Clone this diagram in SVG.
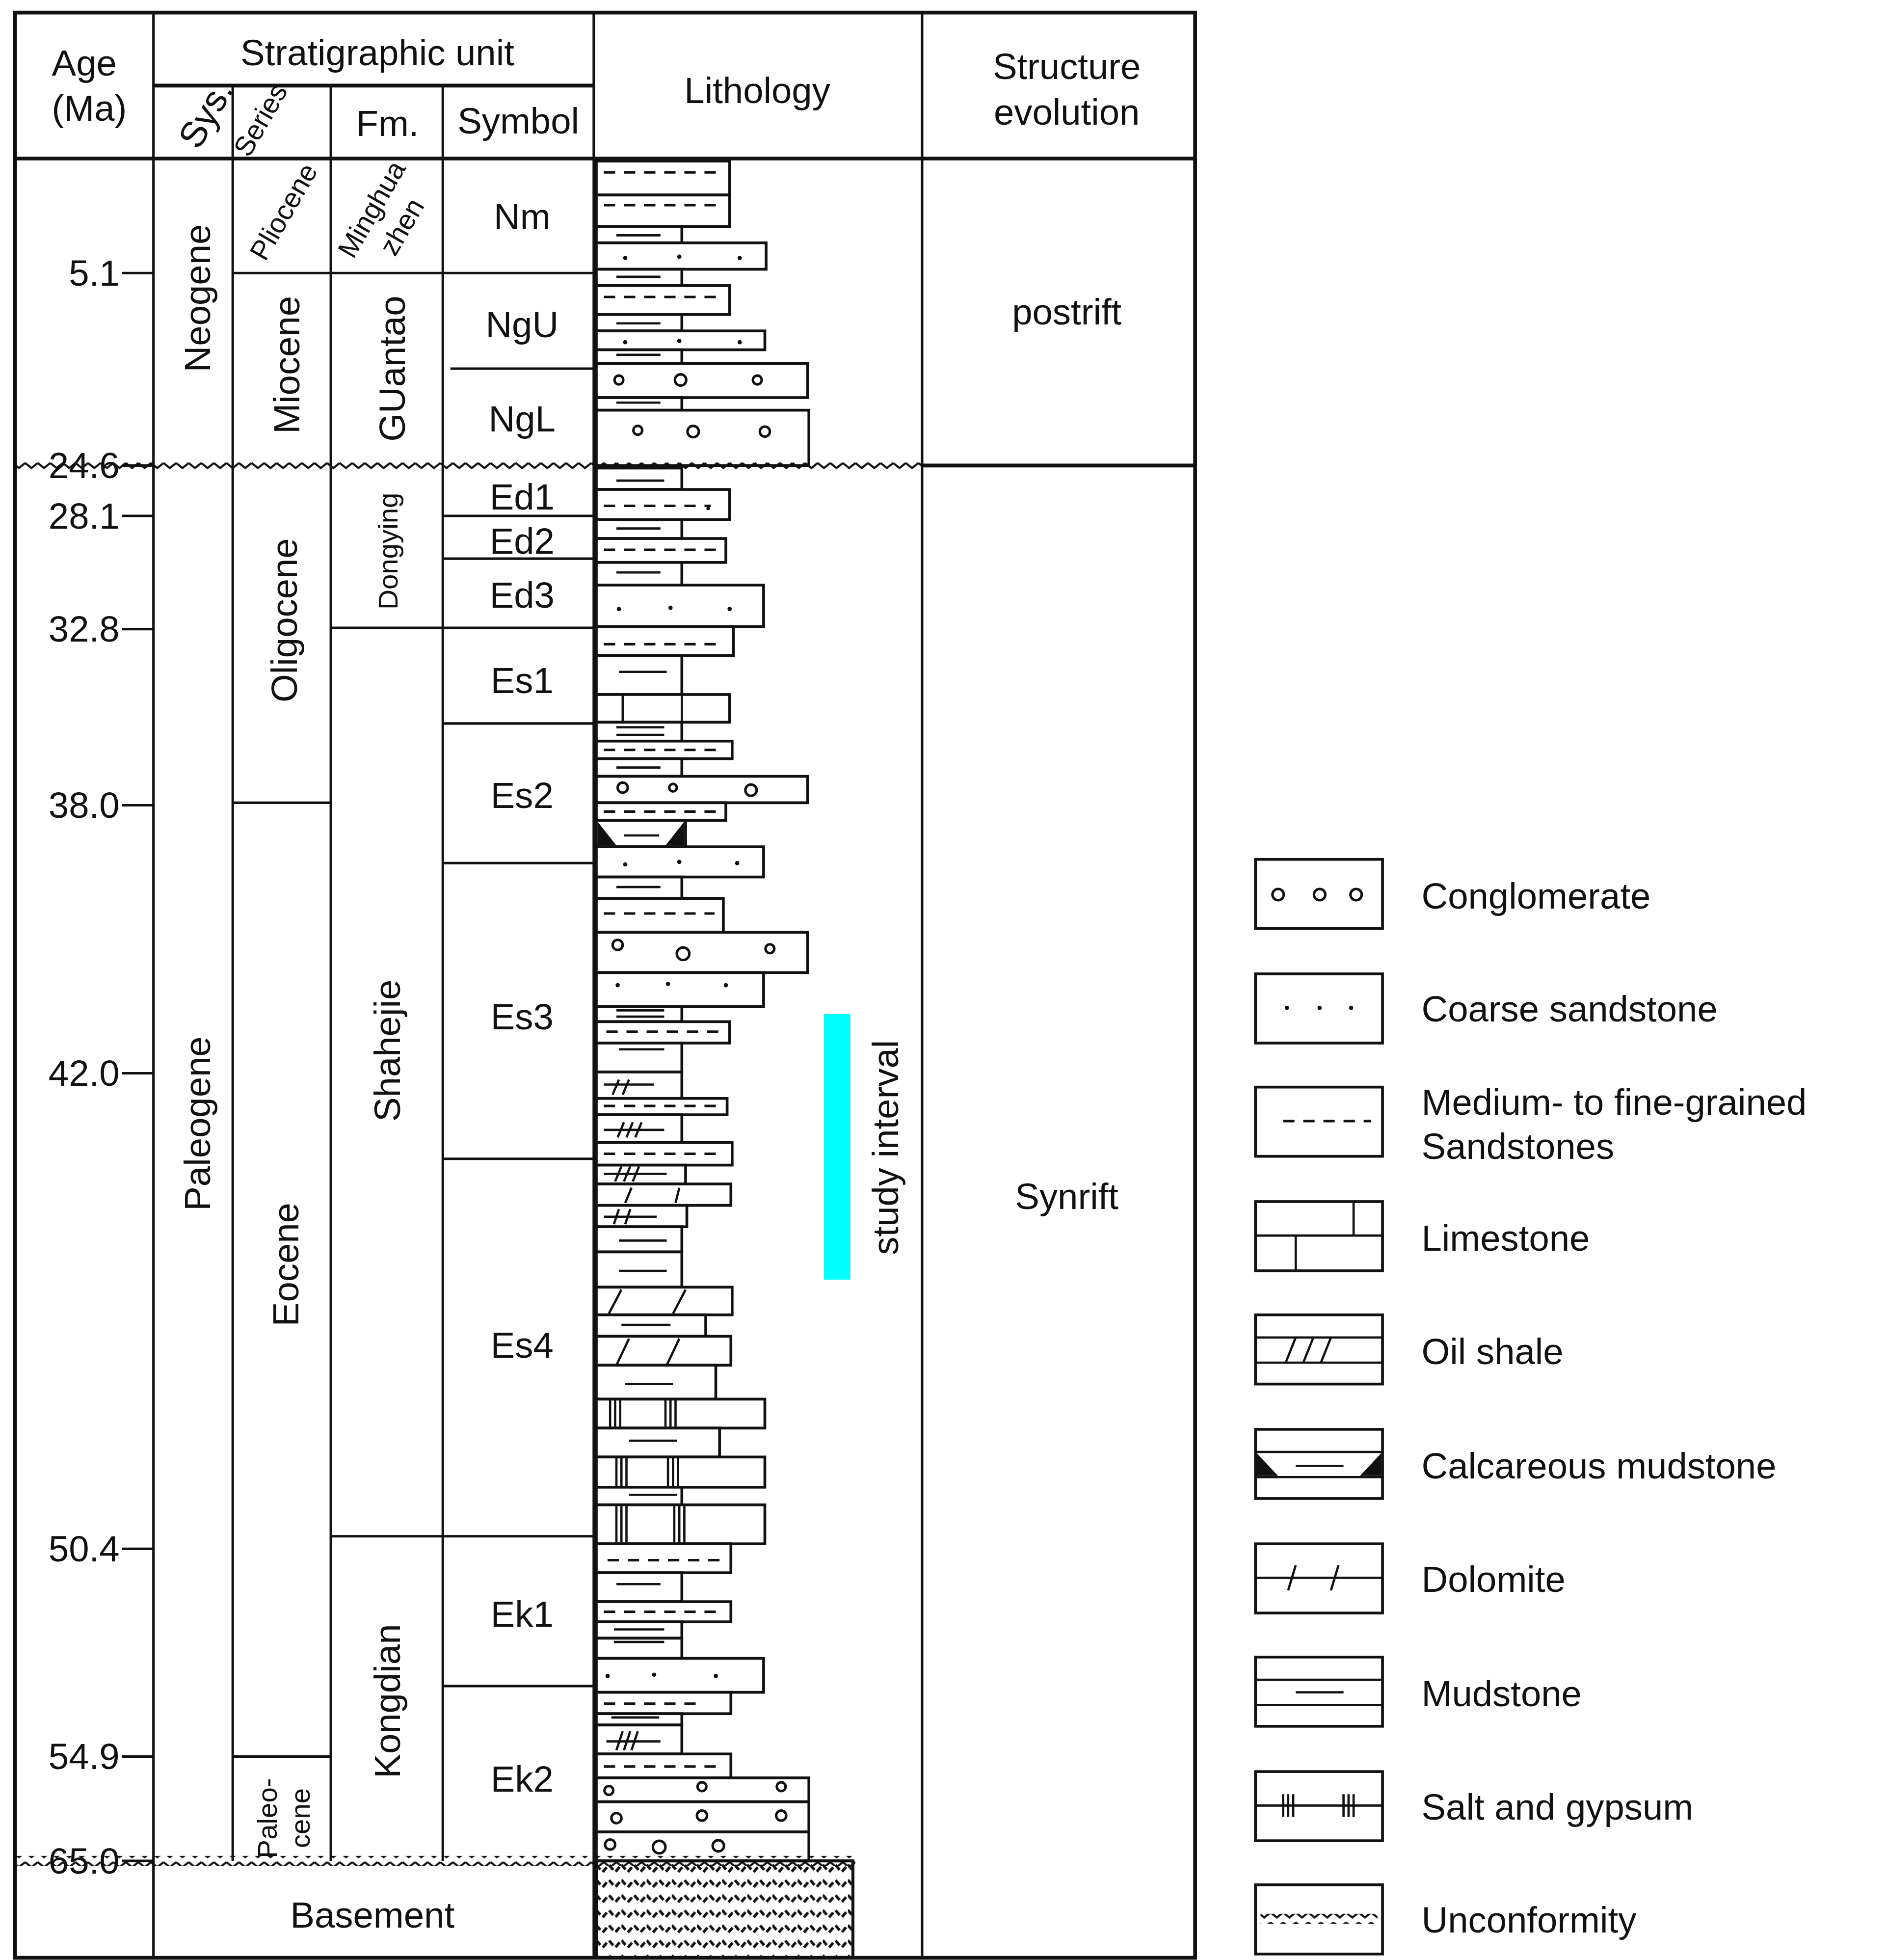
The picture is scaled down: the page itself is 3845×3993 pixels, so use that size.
<svg xmlns="http://www.w3.org/2000/svg" width="3845" height="3993" viewBox="0 0 3845 3993">
<defs>
<style>
text{font-family:"Liberation Sans",Arial,sans-serif;fill:#111}
.h{font-size:29px}
.s{font-size:22px}
.f{fill:none;stroke:#111;stroke-width:2}
.b{fill:#fff;stroke:#111;stroke-width:2.2}
.m{stroke:#111;stroke-width:1.8}
.d{stroke:#111;stroke-width:2;stroke-dasharray:9 7}
.c{fill:none;stroke:#111;stroke-width:2}
.k{fill:#111}
</style>
<pattern id="zig" patternUnits="userSpaceOnUse" width="10" height="8" x="0" y="366">
<polyline points="0,2 5,6 10,2" fill="none" stroke="#111" stroke-width="1.6"/>
</pattern>
<pattern id="bas" patternUnits="userSpaceOnUse" width="20" height="12" x="474" y="1479">
<polyline points="0,3 5,9 10,3 15,9 20,3" fill="none" stroke="#111" stroke-width="2.2" stroke-dasharray="5 3"/>
</pattern>
</defs>
<rect width="3845" height="3993" fill="#fff"/>
<g transform="scale(2.5633)">
<g id="frame" class="f">
<rect x="12" y="10" width="938" height="1546" stroke-width="3"/>
<line x1="12" y1="126" x2="950" y2="126" stroke-width="3"/>
<line x1="122" y1="10" x2="122" y2="1556"/>
<line x1="472" y1="10" x2="472" y2="1556"/>
<line x1="733" y1="10" x2="733" y2="1556"/>
<line x1="122" y1="68" x2="472" y2="68" stroke-width="3"/>
<line x1="185" y1="68" x2="185" y2="1479"/>
<line x1="263" y1="68" x2="263" y2="1479"/>
<line x1="352" y1="68" x2="352" y2="1479"/>
<line x1="733" y1="370" x2="950" y2="370" stroke-width="3"/>
<line x1="12" y1="1479" x2="472" y2="1479" stroke="none"/>
<line x1="185" y1="217" x2="472" y2="217"/>
<line x1="358" y1="293" x2="472" y2="293"/>
<line x1="352" y1="410" x2="472" y2="410"/>
<line x1="352" y1="444" x2="472" y2="444"/>
<line x1="263" y1="499" x2="472" y2="499"/>
<line x1="352" y1="575" x2="472" y2="575"/>
<line x1="185" y1="638" x2="263" y2="638"/>
<line x1="352" y1="686" x2="472" y2="686"/>
<line x1="352" y1="921" x2="472" y2="921"/>
<line x1="263" y1="1221" x2="472" y2="1221"/>
<line x1="352" y1="1340" x2="472" y2="1340"/>
<line x1="185" y1="1396" x2="263" y2="1396"/>
</g>
<g id="ages">
<g class="f"><line x1="97" y1="217" x2="122" y2="217"/><line x1="97" y1="370" x2="122" y2="370"/><line x1="97" y1="410" x2="122" y2="410"/><line x1="97" y1="500" x2="122" y2="500"/><line x1="97" y1="640" x2="122" y2="640"/><line x1="97" y1="853" x2="122" y2="853"/><line x1="97" y1="1231" x2="122" y2="1231"/><line x1="97" y1="1396" x2="122" y2="1396"/><line x1="97" y1="1479" x2="122" y2="1479"/></g>
<g class="h" text-anchor="end">
<text x="95" y="227">5.1</text><text x="95" y="380">24.6</text><text x="95" y="420">28.1</text><text x="95" y="510">32.8</text><text x="95" y="650">38.0</text><text x="95" y="863">42.0</text><text x="95" y="1241">50.4</text><text x="95" y="1406">54.9</text><text x="95" y="1489">65.0</text>
</g>
</g>
<g id="header" class="h" text-anchor="middle">
<text x="67" y="60">Age</text><text x="71" y="96">(Ma)</text>
<text x="300" y="52">Stratigraphic unit</text>
<text x="602" y="82">Lithology</text>
<text x="848" y="63">Structure</text><text x="848" y="99">evolution</text>
<text x="308" y="108">Fm.</text>
<text x="412" y="106">Symbol</text>
<text transform="translate(158,120) rotate(-60)" x="0" y="0" text-anchor="start">Sys.</text>
<text transform="translate(198,126) rotate(-60)" class="s" text-anchor="start">Series</text>
</g>
<g id="units" class="h" text-anchor="middle">
<text transform="translate(167,237) rotate(-90)">Neogene</text>
<text transform="translate(167,893) rotate(-90)">Paleogene</text>
<text transform="translate(238,290) rotate(-90)">Miocene</text>
<text transform="translate(236,493) rotate(-90)">Oligocene</text>
<text transform="translate(237,1005) rotate(-90)">Eocene</text>
<text transform="translate(322,293) rotate(-90)">GUantao</text>
<text transform="translate(316,438) rotate(-90)" class="s">Dongying</text>
<text transform="translate(318,835) rotate(-90)">Shahejie</text>
<text transform="translate(318,1352) rotate(-90)">Kongdian</text>
<text transform="translate(232,172) rotate(-60)" class="s">Pliocene</text>
<text transform="translate(302,170) rotate(-60)" class="s">Minghua</text>
<text transform="translate(326,184) rotate(-60)" class="s">zhen</text>
<text transform="translate(220,1445) rotate(-90)" class="s">Paleo-</text>
<text transform="translate(246,1445) rotate(-90)" class="s">cene</text>
<text x="415" y="182">Nm</text><text x="415" y="268">NgU</text><text x="415" y="343">NgL</text>
<text x="415" y="405">Ed1</text><text x="415" y="440">Ed2</text><text x="415" y="483">Ed3</text>
<text x="415" y="551">Es1</text><text x="415" y="642">Es2</text><text x="415" y="818">Es3</text>
<text x="415" y="1079">Es4</text><text x="415" y="1293">Ek1</text><text x="415" y="1424">Ek2</text>
<text x="296" y="1532">Basement</text>
<text x="848" y="258">postrift</text>
<text x="848" y="961">Synrift</text>
</g>
<g id="lithology">
<rect class="b" x="474" y="128" width="106" height="27"/><line class="d" x1="480" y1="137" x2="572" y2="137"/>
<rect class="b" x="474" y="155" width="106" height="25"/><line class="d" x1="480" y1="163" x2="572" y2="163"/>
<rect class="b" x="474" y="180" width="68" height="13"/><line class="m" x1="490" y1="187" x2="525" y2="187"/>
<rect class="b" x="474" y="193" width="135" height="21"/><circle class="k" cx="497" cy="205" r="1.7"/><circle class="k" cx="540" cy="204" r="1.7"/><circle class="k" cx="588" cy="205" r="1.7"/>
<rect class="b" x="474" y="214" width="68" height="13"/><line class="m" x1="490" y1="220" x2="525" y2="220"/>
<rect class="b" x="474" y="227" width="106" height="23"/><line class="d" x1="480" y1="236" x2="572" y2="236"/>
<rect class="b" x="474" y="250" width="68" height="13"/><line class="m" x1="490" y1="257" x2="525" y2="257"/>
<rect class="b" x="474" y="263" width="134" height="15"/><circle class="k" cx="497" cy="272" r="1.7"/><circle class="k" cx="540" cy="271" r="1.7"/><circle class="k" cx="588" cy="272" r="1.7"/>
<rect class="b" x="474" y="278" width="68" height="11"/><line class="m" x1="490" y1="282" x2="525" y2="282"/>
<rect class="b" x="474" y="289" width="168" height="27"/><circle class="c" cx="492" cy="302" r="3.5"/><circle class="c" cx="541" cy="302" r="4.5"/><circle class="c" cx="602" cy="302" r="3.5"/>
<rect class="b" x="474" y="316" width="68" height="10"/><line class="m" x1="490" y1="320" x2="525" y2="320"/>
<rect class="b" x="474" y="326" width="169" height="44"/><circle class="c" cx="507" cy="342" r="3.5"/><circle class="c" cx="551" cy="343" r="4.5"/><circle class="c" cx="608" cy="343" r="4"/>
<rect class="b" x="474" y="372" width="68" height="17"/><line class="m" x1="490" y1="382" x2="528" y2="382"/>
<rect class="b" x="474" y="389" width="106" height="24"/><line class="d" x1="480" y1="402" x2="565" y2="402"/><circle class="k" cx="563" cy="404" r="1.5"/>
<rect class="b" x="474" y="413" width="68" height="15"/><line class="m" x1="490" y1="420" x2="525" y2="420"/>
<rect class="b" x="474" y="428" width="103" height="19"/><line class="d" x1="480" y1="437" x2="570" y2="437"/>
<rect class="b" x="474" y="447" width="68" height="18"/><line class="m" x1="490" y1="455" x2="525" y2="455"/>
<rect class="b" x="474" y="465" width="133" height="33"/><circle class="k" cx="492" cy="484" r="1.7"/><circle class="k" cx="533" cy="483" r="1.7"/><circle class="k" cx="580" cy="484" r="1.7"/>
<rect class="b" x="474" y="498" width="109" height="23"/><line class="d" x1="480" y1="512" x2="576" y2="512"/>
<rect class="b" x="474" y="521" width="68" height="31"/><line class="m" x1="492" y1="534" x2="530" y2="534"/>
<rect class="b" x="474" y="552" width="106" height="22"/><line class="m" x1="495" y1="552" x2="495" y2="574"/><line class="m" x1="542" y1="552" x2="542" y2="574"/>
<rect class="b" x="474" y="574" width="68" height="15"/><line class="m" x1="490" y1="578" x2="528" y2="578"/><line class="m" x1="490" y1="584" x2="528" y2="584"/>
<rect class="b" x="474" y="589" width="108" height="14"/><line class="d" x1="480" y1="596" x2="576" y2="596"/>
<rect class="b" x="474" y="603" width="68" height="14"/><line class="m" x1="490" y1="610" x2="525" y2="610"/>
<rect class="b" x="474" y="617" width="168" height="21"/><circle class="c" cx="495" cy="626" r="4"/><circle class="c" cx="535" cy="626" r="3"/><circle class="c" cx="597" cy="628" r="4.5"/>
<rect class="b" x="474" y="638" width="103" height="14"/><line class="d" x1="480" y1="645" x2="570" y2="645"/>
<rect class="b" x="474" y="652" width="71" height="21"/><polygon class="k" points="475,653 475,672 490,672"/><polygon class="k" points="544,653 544,672 529,672"/><line class="m" x1="496" y1="664" x2="524" y2="664"/>
<rect class="b" x="474" y="673" width="133" height="24"/><circle class="k" cx="497" cy="687" r="1.7"/><circle class="k" cx="540" cy="685" r="1.7"/><circle class="k" cx="586" cy="686" r="1.7"/>
<rect class="b" x="474" y="697" width="68" height="17"/><line class="m" x1="490" y1="705" x2="525" y2="705"/>
<rect class="b" x="474" y="714" width="101" height="27"/><line class="d" x1="480" y1="726" x2="568" y2="726"/>
<rect class="b" x="474" y="741" width="168" height="32"/><circle class="c" cx="491" cy="751" r="4"/><circle class="c" cx="543" cy="758" r="5"/><circle class="c" cx="612" cy="754" r="3.5"/>
<rect class="b" x="474" y="773" width="133" height="27"/><circle class="k" cx="491" cy="783" r="1.7"/><circle class="k" cx="531" cy="782" r="1.7"/><circle class="k" cx="577" cy="783" r="1.7"/>
<rect class="b" x="474" y="800" width="68" height="12"/><line class="m" x1="490" y1="803" x2="528" y2="803"/><line class="m" x1="490" y1="808" x2="528" y2="808"/>
<rect class="b" x="474" y="812" width="106" height="17"/><line class="d" x1="482" y1="820" x2="574" y2="820"/>
<rect class="b" x="474" y="829" width="68" height="23"/><line class="m" x1="492" y1="834" x2="528" y2="834"/>
<rect class="b" x="474" y="852" width="68" height="21"/><line class="m" x1="480" y1="862" x2="520" y2="862"/><path class="m" d="M487,870 L492,858 M495,870 L500,858"/>
<rect class="b" x="474" y="873" width="104" height="13"/><line class="d" x1="480" y1="879" x2="572" y2="879"/>
<rect class="b" x="474" y="886" width="68" height="22"/><line class="m" x1="480" y1="898" x2="528" y2="898"/><path class="m" d="M491,904 L496,892 M498,904 L503,892 M505,904 L510,892"/>
<rect class="b" x="474" y="908" width="108" height="18"/><line class="d" x1="480" y1="917" x2="575" y2="917"/>
<rect class="b" x="474" y="926" width="71" height="15"/><line class="m" x1="480" y1="933" x2="530" y2="933"/><path class="m" d="M489,939 L494,927 M496,939 L501,927 M503,939 L508,927"/>
<rect class="b" x="474" y="941" width="107" height="17"/><path class="m" d="M497,956 L502,944 M537,956 L540,944"/>
<rect class="b" x="474" y="958" width="72" height="17"/><line class="m" x1="480" y1="967" x2="522" y2="967"/><path class="m" d="M488,973 L492,961 M497,973 L501,961"/>
<rect class="b" x="474" y="975" width="68" height="20"/><line class="m" x1="492" y1="986" x2="530" y2="986"/>
<rect class="b" x="474" y="995" width="68" height="28"/><line class="m" x1="492" y1="1010" x2="530" y2="1010"/>
<rect class="b" x="474" y="1023" width="108" height="22"/><path class="m" d="M484,1044 L494,1025 M535,1044 L545,1025"/>
<rect class="b" x="474" y="1045" width="87" height="17"/><line class="m" x1="494" y1="1053" x2="533" y2="1053"/>
<rect class="b" x="474" y="1062" width="107" height="23"/><path class="m" d="M490,1085 L500,1064 M530,1085 L540,1064"/>
<rect class="b" x="474" y="1085" width="95" height="27"/><line class="m" x1="497" y1="1100" x2="535" y2="1100"/>
<rect class="b" x="474" y="1112" width="134" height="23"/><path class="m" d="M485,1113 V1134 M489,1113 V1134 M493,1113 V1134 M529,1113 V1134 M533,1113 V1134 M537,1113 V1134"/>
<rect class="b" x="474" y="1135" width="98" height="23"/><line class="m" x1="500" y1="1145" x2="538" y2="1145"/>
<rect class="b" x="474" y="1158" width="134" height="24"/><path class="m" d="M490,1159 V1181 M494,1159 V1181 M498,1159 V1181 M531,1159 V1181 M535,1159 V1181 M539,1159 V1181"/>
<rect class="b" x="474" y="1182" width="68" height="14"/><line class="m" x1="500" y1="1188" x2="538" y2="1188"/>
<rect class="b" x="474" y="1196" width="134" height="31"/><path class="m" d="M490,1197 V1226 M494,1197 V1226 M498,1197 V1226 M536,1197 V1226 M540,1197 V1226 M544,1197 V1226"/>
<rect class="b" x="474" y="1227" width="107" height="23"/><line class="d" x1="483" y1="1240" x2="575" y2="1240"/>
<rect class="b" x="474" y="1250" width="68" height="23"/><line class="m" x1="490" y1="1259" x2="525" y2="1259"/>
<rect class="b" x="474" y="1273" width="107" height="16"/><line class="d" x1="480" y1="1281" x2="575" y2="1281"/>
<rect class="b" x="474" y="1289" width="68" height="13"/><line class="m" x1="488" y1="1295" x2="528" y2="1295"/>
<rect class="b" x="474" y="1302" width="68" height="16"/><line class="m" x1="488" y1="1305" x2="528" y2="1305"/>
<rect class="b" x="474" y="1318" width="133" height="27"/><circle class="k" cx="483" cy="1332" r="1.7"/><circle class="k" cx="520" cy="1331" r="1.7"/><circle class="k" cx="569" cy="1332" r="1.7"/>
<rect class="b" x="474" y="1345" width="107" height="17"/><line class="d" x1="480" y1="1354" x2="560" y2="1354"/>
<rect class="b" x="474" y="1362" width="68" height="9"/><line class="m" x1="486" y1="1365" x2="524" y2="1365"/>
<rect class="b" x="474" y="1371" width="68" height="23"/><line class="m" x1="482" y1="1384" x2="525" y2="1384"/><path class="m" d="M490,1391 L495,1376 M496,1391 L501,1376 M502,1391 L507,1376"/>
<rect class="b" x="474" y="1394" width="107" height="19"/><line class="d" x1="480" y1="1404" x2="575" y2="1404"/>
<rect class="b" x="474" y="1413" width="169" height="19"/><circle class="c" cx="484" cy="1423" r="3.5"/><circle class="c" cx="558" cy="1420" r="3.5"/><circle class="c" cx="621" cy="1420" r="3.5"/>
<rect class="b" x="474" y="1432" width="169" height="24"/><circle class="c" cx="490" cy="1445" r="4"/><circle class="c" cx="558" cy="1443" r="4"/><circle class="c" cx="621" cy="1443" r="4"/>
<rect class="b" x="474" y="1456" width="169" height="23"/><circle class="c" cx="485" cy="1466" r="4"/><circle class="c" cx="524" cy="1468" r="5"/><circle class="c" cx="571" cy="1467" r="4.5"/>
<rect x="474" y="1479" width="204" height="77" fill="url(#bas)" stroke="#111" stroke-width="2.4"/>
</g>
<g id="unconformities">
<rect x="12" y="366" width="721" height="8" fill="url(#zig)"/>
<rect x="12" y="1475" width="668" height="8" fill="url(#zig)" style="transform:translate(0,0)"/>
</g>
<g id="study">
<rect x="655" y="806" width="21" height="211" fill="#00ffff"/>
<text transform="translate(714,912) rotate(-90)" class="h" text-anchor="middle">study interval</text>
</g>
<g id="legend">
<g class="b">
<rect x="998" y="683" width="101" height="55"/><rect x="998" y="774" width="101" height="55"/><rect x="998" y="864" width="101" height="55"/><rect x="998" y="955" width="101" height="55"/><rect x="998" y="1045" width="101" height="55"/><rect x="998" y="1136" width="101" height="55"/><rect x="998" y="1227" width="101" height="55"/><rect x="998" y="1317" width="101" height="55"/><rect x="998" y="1408" width="101" height="55"/><rect x="998" y="1498" width="101" height="55"/>
</g>
<circle class="c" cx="1016" cy="711" r="4.5"/><circle class="c" cx="1049" cy="711" r="4.5"/><circle class="c" cx="1078" cy="711" r="4.5"/>
<circle class="k" cx="1023" cy="801" r="1.7"/><circle class="k" cx="1049" cy="801" r="1.7"/><circle class="k" cx="1074" cy="801" r="1.7"/>
<line class="d" x1="1020" y1="891" x2="1090" y2="891"/>
<path class="m" d="M998,982 H1099 M1030,982 V1010 M1076,955 V982"/>
<path class="m" d="M998,1063 H1099 M998,1083 H1099 M1022,1083 L1030,1063 M1036,1083 L1044,1063 M1050,1083 L1058,1063"/>
<path class="m" d="M998,1154 H1099 M998,1174 H1099 M1030,1165 H1068"/><polygon class="k" points="999,1155 999,1173 1016,1173"/><polygon class="k" points="1098,1155 1098,1173 1081,1173"/>
<path class="m" d="M998,1254 H1099 M1024,1264 L1030,1244 M1058,1264 L1064,1244"/>
<path class="m" d="M998,1335 H1099 M998,1355 H1099 M1030,1345 H1068"/>
<path class="m" d="M998,1435 H1099 M1020,1426 V1444 M1024,1426 V1444 M1028,1426 V1444 M1068,1426 V1444 M1072,1426 V1444 M1076,1426 V1444"/>
<rect x="1002" y="1521" width="93" height="8" fill="url(#zig)"/>
<g class="h">
<text x="1130" y="722">Conglomerate</text>
<text x="1130" y="812">Coarse sandstone</text>
<text x="1130" y="886">Medium- to fine-grained</text><text x="1130" y="921">Sandstones</text>
<text x="1130" y="994">Limestone</text>
<text x="1130" y="1084">Oil shale</text>
<text x="1130" y="1175">Calcareous mudstone</text>
<text x="1130" y="1265">Dolomite</text>
<text x="1130" y="1356">Mudstone</text>
<text x="1130" y="1446">Salt and gypsum</text>
<text x="1130" y="1536">Unconformity</text>
</g>
</g>
</g>
</svg>
